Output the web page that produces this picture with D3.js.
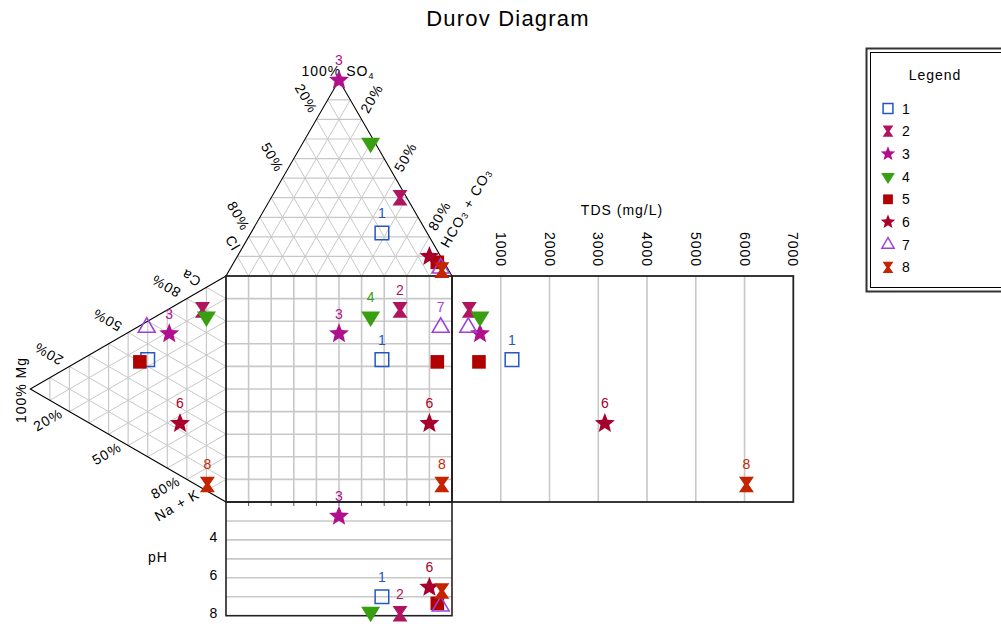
<!DOCTYPE html>
<html>
<head>
<meta charset="utf-8">
<script src="https://cdn.jsdelivr.net/npm/d3@7"></script>
<style>
  body { margin: 0; background: #fff; }
  text { font-family: "Liberation Sans", Arial, sans-serif; }
</style>
</head>
<body>
<svg id="chart" width="1001" height="630"></svg>
<script>
// ---- sample data --------------------------------------------------------
const samples = ["1", "2", "3", "4", "5", "6", "7", "8"];
// anions (% meq/L)
const so4  = [22, 40, 100, 68, 7, 10, 4, 3];
const cl   = [20, 3, 0, 2, 3, 5, 3, 3];
const hco3 = [58, 57, 0, 30, 90, 85, 93, 94];
// cations (% meq/L)
const mg  = [40, 12, 29, 10, 44, 23.5, 40.5, 9.5];
const ca  = [43, 79, 60, 77, 40, 23, 57, 3];
const nak = [17, 9, 11, 13, 16, 53.5, 2.5, 87.5];
// total dissolved solids and pH
const tds = [1230, 355, 574, 574, 553, 3135, 334, 6039];
const ph  = [7.0, 7.9, 2.75, 7.8, 7.35, 6.5, 7.5, 6.7];

const tdsTicks = [1000, 2000, 3000, 4000, 5000, 6000, 7000];
const phGrid   = [3, 4, 5, 6, 7];
const phTicks  = [4, 6, 8];
const pctTicks = [20, 50, 80];

// sample numbers written next to their symbols in each panel
const labelsTop    = ["1", "3"];
const labelsLeft   = ["3", "6", "8"];
const labelsSquare = ["1", "2", "3", "4", "6", "7", "8"];
const labelsTds    = ["1", "6", "8"];
const labelsPh     = ["1", "2", "3", "6"];

// symbol styles
const shapes = ["square", "hourglass", "star", "triDown", "square", "star", "triUp", "hourglass"];
const filled = [false, true, true, true, true, true, false, true];
const colors = ["#2456c8", "#b0145e", "#b0108e", "#38a010", "#b00000", "#a8002c", "#a040d8", "#c42400"];

// ---- geometry -----------------------------------------------------------
const S = 226, X0 = 226, Y0 = 276, H = S * Math.sqrt(3) / 2;
const fx = d3.scaleLinear().domain([0, 100]).range([X0, X0 + S]);      // square, horizontal
const fy = d3.scaleLinear().domain([0, 100]).range([Y0, Y0 + S]);      // square, vertical
const upH = d3.scaleLinear().domain([0, 100]).range([Y0, Y0 - H]);     // SO4 height in anion triangle
const outW = d3.scaleLinear().domain([0, 100]).range([X0, X0 - H]);    // Mg width in cation triangle
const xTds = d3.scaleLinear().domain([0, 7000]).range([X0 + S, 793.3]);
const yPh  = d3.scaleLinear().domain([2, 8]).range([Y0 + S, 615.7]);

// anion triangle: apex SO4, left Cl, right HCO3+CO3
function anion(s, c, h) {
  const t = s + c + h;
  return [fx((h + s / 2) / t * 100), upH(s / t * 100)];
}
// cation triangle: apex Mg (left), top Ca, bottom Na+K
function cation(m, c, n) {
  const t = m + c + n;
  return [outW(m / t * 100), fy((n + m / 2) / t * 100)];
}

const svg = d3.select("#chart");
const font = "'Liberation Sans', Arial, sans-serif";

// ---- title --------------------------------------------------------------
svg.append("text").attr("x", 508).attr("y", 26).attr("text-anchor", "middle")
  .attr("font-size", 22).attr("letter-spacing", 1.2).attr("fill", "#000").text("Durov Diagram");

// ---- grids --------------------------------------------------------------
const grid = svg.append("g").attr("fill", "none").attr("stroke", "#c8c8c8");
const line = d3.line();
const steps = d3.range(10, 100, 10);

// anion triangle grid
steps.forEach(k => {
  grid.append("path").attr("stroke-width", 1.2).attr("d", line([anion(k, 100 - k, 0), anion(k, 0, 100 - k)]));
  grid.append("path").attr("stroke-width", 1).attr("d", line([anion(100 - k, k, 0), anion(0, k, 100 - k)]));
  grid.append("path").attr("stroke-width", 1).attr("d", line([anion(100 - k, 0, k), anion(0, 100 - k, k)]));
});
// cation triangle grid
steps.forEach(k => {
  grid.append("path").attr("stroke-width", 1.2).attr("d", line([cation(k, 100 - k, 0), cation(k, 0, 100 - k)]));
  grid.append("path").attr("stroke-width", 1).attr("d", line([cation(100 - k, k, 0), cation(0, k, 100 - k)]));
  grid.append("path").attr("stroke-width", 1).attr("d", line([cation(100 - k, 0, k), cation(0, 100 - k, k)]));
});
// central square grid
steps.forEach(k => {
  grid.append("line").attr("stroke-width", 1.6)
    .attr("x1", fx(k)).attr("x2", fx(k)).attr("y1", fy(0)).attr("y2", fy(100));
  grid.append("line").attr("stroke-width", 1.6)
    .attr("x1", fx(0)).attr("x2", fx(100)).attr("y1", fy(k)).attr("y2", fy(k));
});
// TDS panel grid
tdsTicks.slice(0, -1).forEach(v => {
  grid.append("line").attr("stroke-width", 1.6)
    .attr("x1", xTds(v)).attr("x2", xTds(v)).attr("y1", fy(0)).attr("y2", fy(100));
});
// pH panel grid
phGrid.forEach(v => {
  grid.append("line").attr("stroke-width", 1.6)
    .attr("x1", fx(0)).attr("x2", fx(100)).attr("y1", yPh(v)).attr("y2", yPh(v));
});
// short ticks under the top edge of the pH panel
steps.forEach(k => {
  svg.append("line").attr("stroke", "#555").attr("stroke-width", 1)
    .attr("x1", fx(k)).attr("x2", fx(k)).attr("y1", yPh(2)).attr("y2", yPh(2) + 4);
});

// ---- outlines -----------------------------------------------------------
const outl = svg.append("g").attr("fill", "none").attr("stroke", "#000");
outl.append("path").attr("stroke-width", 1.1)
  .attr("d", line([anion(0, 100, 0), anion(100, 0, 0), anion(0, 0, 100)]));
outl.append("path").attr("stroke-width", 1.1)
  .attr("d", line([cation(0, 100, 0), cation(100, 0, 0), cation(0, 0, 100)]));
outl.append("rect").attr("stroke-width", 1.8).attr("stroke", "#222")
  .attr("x", fx(0)).attr("y", fy(0)).attr("width", fx(100) - fx(0)).attr("height", fy(100) - fy(0));
outl.append("rect").attr("stroke-width", 1.8).attr("stroke", "#222")
  .attr("x", xTds(0)).attr("y", fy(0)).attr("width", xTds(7000) - xTds(0)).attr("height", fy(100) - fy(0));
outl.append("rect").attr("stroke-width", 1.6).attr("stroke", "#222")
  .attr("x", fx(0)).attr("y", yPh(2)).attr("width", fx(100) - fx(0)).attr("height", yPh(8) - yPh(2));

// ---- axis text ----------------------------------------------------------
const axisText = svg.append("g").attr("font-size", 14).attr("letter-spacing", 1).attr("fill", "#000");
function label(x, y, rot, txt) {
  return axisText.append("text")
    .attr("transform", `translate(${x},${y}) rotate(${rot})`)
    .attr("text-anchor", "middle").attr("dominant-baseline", "central").text(txt);
}
pctTicks.forEach(p => {
  let q = anion(100 - p, p, 0);   label(q[0] - 10, q[1] - 21, 60, p + "%");
  q = anion(100 - p, 0, p);       label(q[0] + 10, q[1] - 21, -60, p + "%");
  q = cation(100 - p, p, 0);      label(q[0] - 21, q[1] - 12.5, 210, p + "%");
  q = cation(100 - p, 0, p);      label(q[0] - 21.5, q[1] + 8, -30, p + "%");
});
label(233, 243, 60, "Cl");
label(191, 278, 210, "Ca");
label(177, 505, -30, "Na + K");
label(21, 390, -90, "100% Mg");

// subscripted labels
const so4Label = axisText.append("text").attr("x", 338).attr("y", 76).attr("text-anchor", "middle");
so4Label.append("tspan").text("100% SO");
so4Label.append("tspan").attr("font-size", 9).attr("dy", 3).text("4");

const hcoLabel = axisText.append("text")
  .attr("transform", "translate(466,208) rotate(-60)")
  .attr("text-anchor", "middle").attr("dominant-baseline", "central");
hcoLabel.append("tspan").text("HCO");
hcoLabel.append("tspan").attr("font-size", 9).attr("dy", 3).text("3");
hcoLabel.append("tspan").attr("dy", -3).text(" + CO");
hcoLabel.append("tspan").attr("font-size", 9).attr("dy", 3).text("3");

// TDS axis
axisText.append("text").attr("x", 622).attr("y", 215).attr("text-anchor", "middle").text("TDS (mg/L)");
tdsTicks.forEach(v => {
  axisText.append("text")
    .attr("transform", `translate(${xTds(v)},232) rotate(90)`)
    .attr("dominant-baseline", "central").text(v);
});

// pH axis
axisText.append("text").attr("x", 158).attr("y", 557).attr("text-anchor", "middle")
  .attr("dominant-baseline", "central").text("pH");
phTicks.forEach(v => {
  axisText.append("text").attr("x", 214).attr("y", yPh(v) - 3).attr("text-anchor", "middle")
    .attr("dominant-baseline", "central").text(v);
});

// ---- symbols ------------------------------------------------------------
function shapePath(kind, k) {
  switch (kind) {
    case "square": { const r = 6.8 * k; return `M${-r},${-r}H${r}V${r}H${-r}Z`; }
    case "hourglass": {
      const w = 7.5 * k, h = 7.8 * k, p = 2.2 * k;
      return `M${-w},${-h}H${w}L${p},0L${w},${h}H${-w}L${-p},0Z`;
    }
    case "star": {
      const R = 10.5 * k, r = 4.6 * k, pts = [];
      for (let i = 0; i < 10; i++) {
        const a = -Math.PI / 2 + i * Math.PI / 5, rr = i % 2 ? r : R;
        pts.push([rr * Math.cos(a), rr * Math.sin(a)]);
      }
      return d3.line()(pts) + "Z";
    }
    case "triDown": { const w = 9.5 * k, h = 15.5 * k;
      return `M${-w},${-h / 3}L${w},${-h / 3}L0,${2 * h / 3}Z`; }
    case "triUp": { const w = 8.5 * k, h = 14.5 * k;
      return `M0,${-2 * h / 3}L${w},${h / 3}L${-w},${h / 3}Z`; }
  }
}
function drawSymbol(g, i, x, y, k) {
  const p = g.append("path").attr("transform", `translate(${x},${y})`).attr("d", shapePath(shapes[i], k));
  if (filled[i]) p.attr("fill", colors[i]).attr("stroke", "none");
  else p.attr("fill", "none").attr("stroke", colors[i]).attr("stroke-width", 1.5);
}

function drawPanel(posFn, shown) {
  const g = svg.append("g");
  samples.forEach((name, i) => {
    const [x, y] = posFn(i);
    drawSymbol(g, i, x, y, 1);
  });
  samples.forEach((name, i) => {
    if (!shown.includes(name)) return;
    const [x, y] = posFn(i);
    g.append("text").attr("x", x).attr("y", y - 15).attr("text-anchor", "middle")
      .attr("font-size", 14).attr("fill", colors[i]).text(name);
  });
}

drawPanel(i => anion(so4[i], cl[i], hco3[i]), labelsTop);
drawPanel(i => cation(mg[i], ca[i], nak[i]), labelsLeft);
drawPanel(i => [anion(so4[i], cl[i], hco3[i])[0], cation(mg[i], ca[i], nak[i])[1]], labelsSquare);
drawPanel(i => [xTds(tds[i]), cation(mg[i], ca[i], nak[i])[1]], labelsTds);
drawPanel(i => [anion(so4[i], cl[i], hco3[i])[0], yPh(ph[i])], labelsPh);

// ---- legend -------------------------------------------------------------
const lg = svg.append("g");
lg.append("rect").attr("x", 866.5).attr("y", 48.5).attr("width", 200).attr("height", 243)
  .attr("fill", "#fff").attr("stroke", "#333").attr("stroke-width", 2);
lg.append("rect").attr("x", 870.5).attr("y", 52.5).attr("width", 200).attr("height", 235)
  .attr("fill", "none").attr("stroke", "#000").attr("stroke-width", 1);
lg.append("text").attr("x", 935).attr("y", 80).attr("text-anchor", "middle")
  .attr("font-size", 14).attr("letter-spacing", 1).text("Legend");
samples.forEach((name, i) => {
  const y = 108.5 + 22.7 * i;
  drawSymbol(lg, i, 888, y, 0.72);
  lg.append("text").attr("x", 902).attr("y", y).attr("dominant-baseline", "central")
    .attr("font-size", 14).attr("letter-spacing", 1).text(name);
});
</script>
</body>
</html>
